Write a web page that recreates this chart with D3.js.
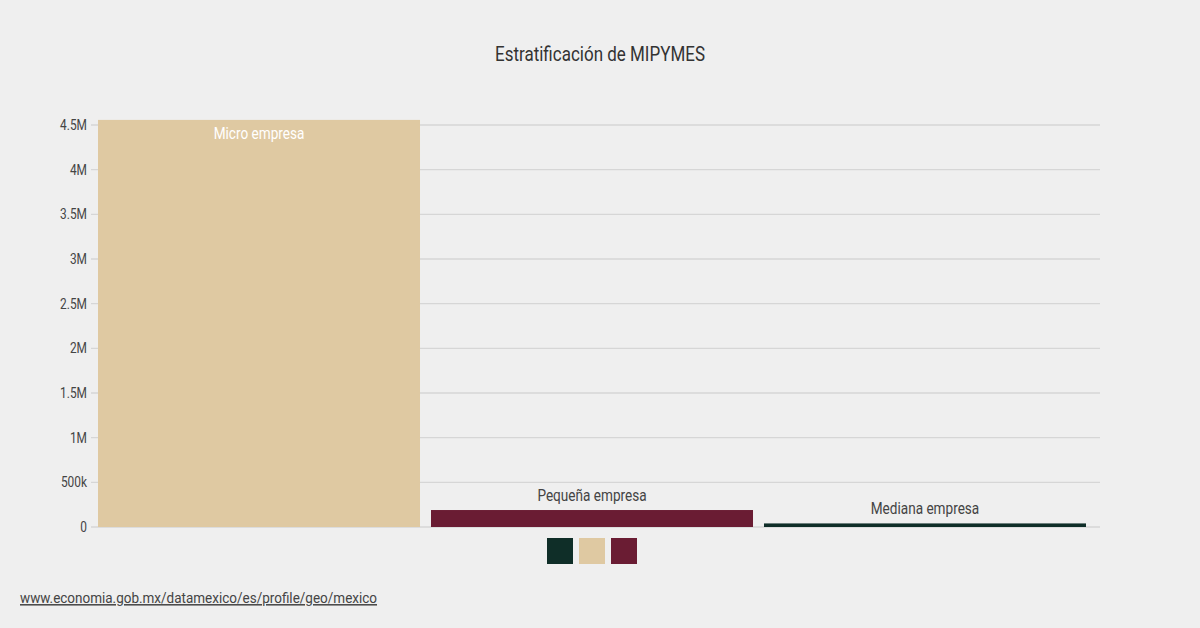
<!DOCTYPE html>
<html><head><meta charset="utf-8">
<script src="https://cdn.jsdelivr.net/npm/d3@7"></script>
<style>body{margin:0;background:#efefef;font-family:"Roboto",sans-serif;}</style>
</head><body><svg id="c" width="1200" height="628"></svg>
<script>
const categories=["Micro empresa","Pequeña empresa","Mediana empresa"];
const values=[4557000,190000,40000];
const colors=["#dfc9a2","#6a1c33","#0f2e28"];
const legendColors=["#0f2e28","#dfc9a2","#6a1c33"];
const ticks=[0,500000,1000000,1500000,2000000,2500000,3000000,3500000,4000000,4500000];
const tickLabels=["0","500k","1M","1.5M","2M","2.5M","3M","3.5M","4M","4.5M"];
const svg=d3.select("#c");
svg.append("rect").attr("width",1200).attr("height",628).attr("fill","#efefef");
const x=d3.scaleBand().domain(categories).range([98,1086]).paddingInner(0.033).paddingOuter(0);
const y=d3.scaleLinear().domain([0,4500000]).range([527,125]);
function txt(px,py,s,size,fill,anchor,k){
 return svg.append("text").attr("transform",`translate(${px},${py}) scale(${k},1)`).attr("text-anchor",anchor).attr("font-size",size).attr("fill",fill).text(s);
}
txt(600,61,"Estratificación de MIPYMES",20,"#333","middle",0.85);
ticks.forEach((t,i)=>{
 svg.append("line").attr("x1",91).attr("x2",1100).attr("y1",y(t)).attr("y2",y(t)).attr("stroke","#d6d6d6").attr("stroke-width",1.3);
 txt(87,y(t)+5,tickLabels[i],14,"#444","end",0.85);
});
categories.forEach((c,i)=>{
 svg.append("rect").attr("x",x(c)).attr("y",y(values[i])).attr("width",x.bandwidth()).attr("height",y(0)-y(values[i])).attr("fill",colors[i]);
 const inside=i===0;
 txt(x(c)+x.bandwidth()/2,inside?y(values[i])+19:y(values[i])-9,c,16,inside?"#fff":"#444","middle",0.85);
});
legendColors.forEach((col,i)=>{
 svg.append("rect").attr("x",547+i*32).attr("y",538).attr("width",26).attr("height",26).attr("fill",col);
});
txt(20,603,"www.economia.gob.mx/datamexico/es/profile/geo/mexico",15,"#444","start",0.9).attr("text-decoration","underline");
</script></body></html>
